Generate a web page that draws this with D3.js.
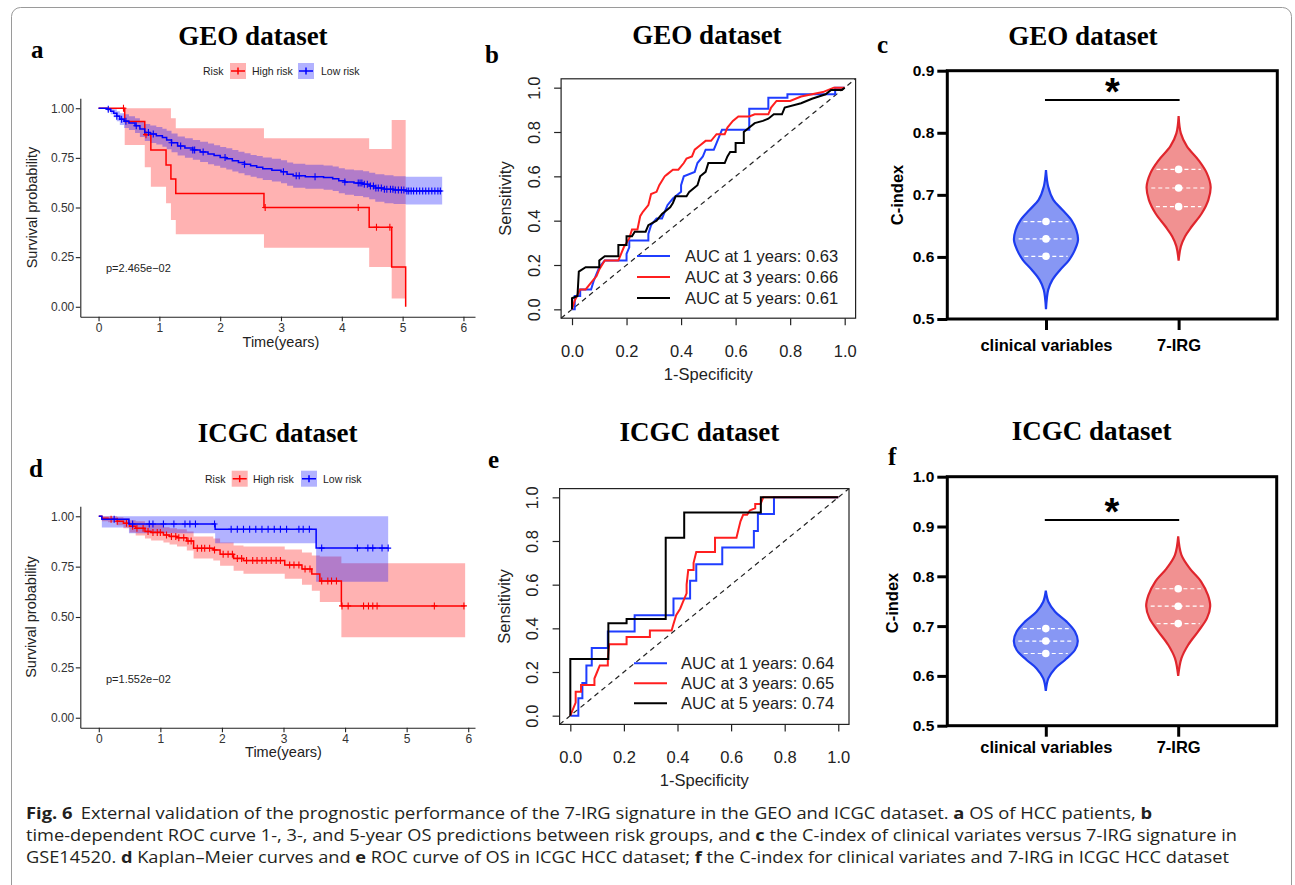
<!DOCTYPE html>
<html>
<head>
<meta charset="utf-8">
<script src="https://cdn.jsdelivr.net/npm/d3@7"></script>
<style>
  body { margin: 0; background: #fff; }
  svg { display: block; }
</style>
</head>
<body>
<div id="fig"></div>
<script>
// ---- data: Kaplan-Meier rows [time, surv, lower, upper] ----
var geoHigh = [
  [0, 1, 1, 1], [0.43, 0.933, 0.815, 1], [0.76, 0.867, 0.703, 1], [0.86, 0.79, 0.605, 1],
  [1.11, 0.714, 0.521, 1], [1.19, 0.643, 0.437, 0.95], [1.27, 0.571, 0.365, 0.899],
  [2.72, 0.5, 0.297, 0.849], [4.45, 0.4, 0.2, 0.795], [4.82, 0.2, 0.042, 0.941],
  [5.05, 0, 0.042, 0.941]
];
var geoLow = [
  [0, 1, 1, 1], [0.14, 0.995, 0.985, 1], [0.2, 0.985, 0.97, 1], [0.25, 0.975, 0.955, 0.995],
  [0.3, 0.96, 0.935, 0.985], [0.35, 0.945, 0.915, 0.975], [0.42, 0.935, 0.9, 0.97],
  [0.5, 0.925, 0.89, 0.96], [0.6, 0.912, 0.875, 0.95], [0.68, 0.895, 0.855, 0.935],
  [0.76, 0.878, 0.835, 0.92], [0.85, 0.87, 0.825, 0.913], [0.95, 0.862, 0.817, 0.906],
  [1.05, 0.852, 0.806, 0.897], [1.12, 0.84, 0.793, 0.886], [1.2, 0.826, 0.778, 0.873],
  [1.3, 0.81, 0.762, 0.858], [1.42, 0.8, 0.751, 0.849], [1.55, 0.79, 0.74, 0.84],
  [1.67, 0.78, 0.729, 0.831], [1.8, 0.77, 0.718, 0.822], [1.9, 0.762, 0.71, 0.814],
  [2.0, 0.752, 0.7, 0.805], [2.1, 0.745, 0.692, 0.798], [2.2, 0.735, 0.681, 0.789],
  [2.3, 0.727, 0.673, 0.781], [2.4, 0.718, 0.663, 0.773], [2.5, 0.71, 0.655, 0.765],
  [2.6, 0.703, 0.647, 0.759], [2.7, 0.695, 0.639, 0.752], [2.85, 0.688, 0.631, 0.745],
  [3.0, 0.68, 0.622, 0.738], [3.1, 0.668, 0.609, 0.727], [3.2, 0.66, 0.6, 0.72],
  [3.4, 0.655, 0.595, 0.715], [3.7, 0.651, 0.59, 0.712], [3.85, 0.645, 0.583, 0.707],
  [3.95, 0.635, 0.572, 0.698], [4.05, 0.628, 0.564, 0.692], [4.2, 0.623, 0.558, 0.688],
  [4.35, 0.617, 0.551, 0.683], [4.45, 0.608, 0.541, 0.675], [4.55, 0.598, 0.529, 0.667],
  [4.7, 0.592, 0.522, 0.662], [4.85, 0.588, 0.518, 0.658], [5.05, 0.583, 0.515, 0.655],
  [5.65, 0.583, 0.515, 0.655]
];
var geoHighCens = [0.41, 0.78, 2.74, 4.27, 4.57, 4.79];
var geoLowCens = [0.16, 0.3, 0.38, 0.45, 0.62, 0.82, 0.9, 1.2, 1.35, 1.55, 1.58, 1.72, 2.08,
  2.4, 3.04, 3.25, 3.3, 3.56, 4.05, 4.27, 4.3, 4.33, 4.37, 4.42, 4.47, 4.52, 4.56, 4.6, 4.65,
  4.7, 4.74, 4.8, 4.84, 4.88, 4.93, 4.98, 5.02, 5.07, 5.1, 5.14, 5.18, 5.23, 5.28, 5.33, 5.38,
  5.43, 5.48, 5.53, 5.58, 5.62];

var icgcHigh = [
  [0, 1, 1, 1], [0.05, 0.99, 0.975, 1], [0.15, 0.985, 0.97, 1], [0.3, 0.975, 0.955, 0.995],
  [0.4, 0.965, 0.94, 0.99], [0.5, 0.95, 0.92, 0.98], [0.6, 0.94, 0.905, 0.975],
  [0.75, 0.925, 0.89, 0.965], [0.85, 0.92, 0.88, 0.96], [1.05, 0.907, 0.87, 0.945],
  [1.15, 0.9, 0.86, 0.94], [1.27, 0.894, 0.85, 0.935], [1.43, 0.877, 0.83, 0.925],
  [1.54, 0.841, 0.79, 0.9], [1.86, 0.833, 0.78, 0.89], [1.97, 0.811, 0.755, 0.87],
  [2.19, 0.791, 0.73, 0.855], [2.35, 0.78, 0.715, 0.85], [3.02, 0.758, 0.69, 0.835],
  [3.3, 0.738, 0.66, 0.82], [3.46, 0.714, 0.63, 0.805], [3.59, 0.679, 0.575, 0.8],
  [3.94, 0.555, 0.4, 0.767], [5.95, 0.555, 0.4, 0.767]
];
var icgcLow = [
  [0, 1, 1, 1], [0.05, 0.985, 0.944, 1], [0.49, 0.962, 0.916, 1], [1.89, 0.935, 0.866, 1],
  [3.53, 0.842, 0.675, 1], [4.7, 0.842, 0.675, 1]
];
var icgcHighCens = [0.2, 0.3, 0.45, 0.55, 0.62, 0.72, 0.8, 0.88, 0.95, 1.0, 1.1, 1.18, 1.25,
  1.3, 1.38, 1.45, 1.5, 1.6, 1.67, 1.72, 1.8, 1.88, 2.02, 2.1, 2.17, 2.25, 2.32, 2.4, 2.5,
  2.57, 2.65, 2.72, 2.8, 2.88, 2.95, 3.1, 3.17, 3.25, 3.35, 3.43, 3.62, 3.72, 3.78, 3.86,
  3.95, 4.05, 4.3, 4.38, 4.45, 4.52, 5.45, 5.93];
var icgcLowCens = [0.25, 0.55, 0.82, 0.88, 1.05, 1.22, 1.4, 1.48, 1.57, 1.88, 2.15, 2.25, 2.35,
  2.45, 2.55, 2.65, 2.75, 2.85, 2.95, 3.05, 3.25, 3.32, 3.42, 3.62, 4.2, 4.37, 4.45, 4.6, 4.7];
var timeTicks = [0, 1, 2, 3, 4, 5, 6];
var survTicks = [0, 0.25, 0.5, 0.75, 1];

// ---- data: ROC points [1-specificity, sensitivity] ----
var geoRoc1 = [[0,0],[0.01,0],[0.01,0.06],[0.03,0.06],[0.03,0.09],[0.07,0.09],[0.08,0.13],[0.09,0.16],
  [0.1,0.19],[0.12,0.22],[0.2,0.22],[0.2,0.25],[0.21,0.28],[0.21,0.31],[0.28,0.31],[0.28,0.34],
  [0.29,0.38],[0.31,0.41],[0.33,0.41],[0.34,0.44],[0.35,0.47],[0.37,0.5],[0.4,0.53],[0.4,0.56],
  [0.41,0.6],[0.45,0.62],[0.46,0.66],[0.48,0.69],[0.49,0.72],[0.52,0.72],[0.53,0.75],[0.54,0.78],
  [0.55,0.81],[0.65,0.81],[0.65,0.905],[0.72,0.905],[0.72,0.955],[0.79,0.955],[0.79,0.97],
  [0.965,0.97],[0.965,1],[1,1]];
var geoRoc3 = [[0,0],[0.01,0.04],[0.03,0.09],[0.05,0.09],[0.07,0.12],[0.09,0.15],[0.1,0.18],[0.12,0.22],
  [0.17,0.22],[0.18,0.25],[0.19,0.28],[0.21,0.32],[0.22,0.36],[0.24,0.36],[0.25,0.42],[0.26,0.44],
  [0.28,0.47],[0.29,0.52],[0.31,0.53],[0.32,0.56],[0.34,0.6],[0.35,0.61],[0.37,0.63],[0.39,0.63],
  [0.41,0.66],[0.42,0.68],[0.44,0.69],[0.45,0.72],[0.47,0.74],[0.49,0.76],[0.51,0.76],[0.53,0.79],
  [0.56,0.79],[0.57,0.82],[0.59,0.85],[0.61,0.87],[0.65,0.87],[0.67,0.88],[0.72,0.88],[0.73,0.91],
  [0.75,0.94],[0.8,0.94],[0.84,0.96],[0.92,0.98],[0.96,1],[1,1]];
var geoRoc5 = [[0,0],[0,0.05],[0.02,0.06],[0.025,0.17],[0.05,0.19],[0.1,0.19],[0.1,0.22],[0.12,0.24],
  [0.17,0.24],[0.17,0.29],[0.2,0.29],[0.2,0.33],[0.22,0.33],[0.23,0.35],[0.27,0.35],[0.28,0.38],
  [0.31,0.4],[0.33,0.43],[0.36,0.46],[0.37,0.48],[0.38,0.51],[0.42,0.51],[0.43,0.53],[0.46,0.56],
  [0.47,0.6],[0.49,0.62],[0.5,0.66],[0.56,0.66],[0.57,0.69],[0.58,0.71],[0.6,0.71],[0.6,0.75],
  [0.63,0.75],[0.63,0.8],[0.65,0.82],[0.67,0.84],[0.7,0.85],[0.72,0.86],[0.74,0.88],[0.77,0.88],
  [0.78,0.91],[0.84,0.93],[0.88,0.95],[0.93,0.97],[0.95,0.99],[0.99,0.99],[1,1]];
var icgcRoc1 = [[0,0],[0.03,0],[0.03,0.08],[0.045,0.08],[0.045,0.15],[0.06,0.15],[0.06,0.23],
  [0.08,0.23],[0.08,0.31],[0.14,0.31],[0.14,0.385],[0.24,0.385],[0.24,0.46],[0.385,0.46],
  [0.385,0.537],[0.447,0.537],[0.447,0.618],[0.47,0.618],[0.47,0.693],[0.567,0.693],[0.567,0.77],
  [0.685,0.77],[0.685,0.846],[0.7,0.846],[0.7,0.924],[0.76,0.924],[0.76,1],[1,1]];
var icgcRoc3 = [[0,0],[0.01,0.03],[0.02,0.06],[0.02,0.11],[0.04,0.11],[0.04,0.14],[0.09,0.14],
  [0.09,0.17],[0.1,0.2],[0.11,0.23],[0.14,0.23],[0.14,0.26],[0.145,0.327],[0.21,0.327],[0.21,0.36],
  [0.297,0.36],[0.297,0.39],[0.378,0.39],[0.385,0.42],[0.395,0.46],[0.41,0.49],[0.42,0.52],
  [0.434,0.56],[0.434,0.6],[0.44,0.667],[0.46,0.667],[0.46,0.7],[0.47,0.75],[0.54,0.75],
  [0.54,0.815],[0.62,0.815],[0.627,0.85],[0.635,0.89],[0.645,0.92],[0.66,0.92],[0.67,0.94],
  [0.69,0.95],[0.69,0.97],[0.71,0.97],[0.72,1],[1,1]];
var icgcRoc5 = [[0,0],[0,0.26],[0.142,0.26],[0.142,0.423],[0.21,0.423],[0.21,0.443],[0.356,0.443],
  [0.356,0.815],[0.425,0.815],[0.425,0.93],[0.711,0.93],[0.711,1],[1,1]];
var rocTicks = [0, 0.2, 0.4, 0.6, 0.8, 1];
var geoAuc = ["AUC at 1 years: 0.63", "AUC at 3 years: 0.66", "AUC at 5 years: 0.61"];
var icgcAuc = ["AUC at 1 years: 0.64", "AUC at 3 years: 0.65", "AUC at 5 years: 0.74"];

// ---- data: violin outlines [C-index, relative width] and quartiles ----
var categories = ["clinical variables", "7-IRG"];
var geoClinShape = [[0.516,0],[0.547,0.07],[0.563,0.2],[0.579,0.44],[0.595,0.72],[0.611,0.9],
  [0.627,1],[0.643,0.95],[0.659,0.8],[0.676,0.51],[0.692,0.23],[0.713,0.07],[0.74,0]];
var geoIrgShape = [[0.594,0],[0.617,0.07],[0.633,0.2],[0.649,0.41],[0.67,0.72],[0.692,0.93],
  [0.713,1],[0.735,0.88],[0.756,0.62],[0.778,0.26],[0.799,0.07],[0.827,0]];
var icgcClinShape = [[0.57,0],[0.595,0.08],[0.615,0.29],[0.632,0.6],[0.652,0.91],[0.67,1],
  [0.689,0.91],[0.709,0.65],[0.729,0.29],[0.749,0.08],[0.771,0]];
var icgcIrgShape = [[0.6,0],[0.635,0.1],[0.662,0.31],[0.689,0.62],[0.716,0.9],[0.74,1],
  [0.762,0.93],[0.789,0.72],[0.816,0.36],[0.843,0.1],[0.88,0]];
var geoClinQ = [0.601, 0.629, 0.657];
var geoIrgQ = [0.681, 0.711, 0.741];
var icgcClinQ = [0.645, 0.67, 0.695];
var icgcIrgQ = [0.705, 0.74, 0.775];

var captionLines = [
  [["Fig. 6", 1], ["External validation of the prognostic performance of the 7-IRG signature in the GEO and ICGC dataset. ", 0, 7], ["a", 1], [" OS of HCC patients, ", 0], ["b", 1]],
  [["time-dependent ROC curve 1-, 3-, and 5-year OS predictions between risk groups, and ", 0], ["c", 1], [" the C-index of clinical variates versus 7-IRG signature in", 0]],
  [["GSE14520. ", 0], ["d", 1], [" Kaplan\u2013Meier curves and ", 0], ["e", 1], [" ROC curve of OS in ICGC HCC dataset; ", 0], ["f", 1], [" the C-index for clinical variates and 7-IRG in ICGC HCC dataset", 0]]
];

var SANS = "'Liberation Sans', Arial, sans-serif";
var SERIF = "'Liberation Serif', 'Times New Roman', serif";

var svg = d3.select("#fig").append("svg")
    .attr("width", 1295)
    .attr("height", 885);

// figure frame
svg.append("rect")
    .attr("x", 11.5).attr("y", 7.5)
    .attr("width", 1280).attr("height", 900)
    .attr("rx", 9)
    .attr("fill", "none")
    .attr("stroke", "#9a9a9a");

function heading(title, tx, ty, letter, lx, ly) {
    svg.append("text")
        .attr("x", tx).attr("y", ty)
        .attr("text-anchor", "middle")
        .style("font-family", SERIF).style("font-weight", "bold").style("font-size", "27px")
        .text(title);
    svg.append("text")
        .attr("x", lx).attr("y", ly)
        .style("font-family", SERIF).style("font-weight", "bold").style("font-size", "25px")
        .text(letter);
}

function drawKM(o) {
    var g = svg.append("g");
    var x = d3.scaleLinear().domain(o.xDomain).range(o.xRange);
    var y = d3.scaleLinear().domain([-0.05, 1.05]).range(o.yRange);
    var groups = [
        {rows: o.high, cens: o.highCens, color: "#ff0000", band: "rgba(255,0,0,0.3)"},
        {rows: o.low, cens: o.lowCens, color: "#0000ff", band: "rgba(0,0,255,0.3)"}
    ];
    var band = d3.area().curve(d3.curveStepAfter)
        .x(function(d) { return x(d[0]); })
        .y0(function(d) { return y(d[2]); })
        .y1(function(d) { return y(d[3]); });
    var line = d3.line().curve(d3.curveStepAfter)
        .x(function(d) { return x(d[0]); })
        .y(function(d) { return y(d[1]); });
    var bisect = d3.bisector(function(d) { return d[0]; }).right;

    groups.forEach(function(gr) {
        g.append("path").attr("d", band(gr.rows)).attr("fill", gr.band);
    });
    groups.forEach(function(gr) {
        g.append("path").attr("d", line(gr.rows))
            .attr("fill", "none").attr("stroke", gr.color).attr("stroke-width", 1.5);
        g.append("g").selectAll("path").data(gr.cens).join("path")
            .attr("d", function(t) {
                var i = Math.max(0, bisect(gr.rows, t) - 1);
                var px = x(t), py = y(gr.rows[i][1]);
                return "M" + (px - 3) + "," + py + "h6M" + px + "," + (py - 3.5) + "v7";
            })
            .attr("stroke", gr.color).attr("stroke-width", 1.1);
    });

    var ya = g.append("g")
        .attr("transform", "translate(" + o.xRange[0] + ",0)")
        .call(d3.axisLeft(y).tickValues(survTicks)
            .tickFormat(d3.format(".2f")).tickSize(4.5).tickPadding(1.5).tickSizeOuter(0));
    var xa = g.append("g")
        .attr("transform", "translate(0," + o.yRange[0] + ")")
        .call(d3.axisBottom(x).tickValues(timeTicks).tickFormat(d3.format("d"))
            .tickSize(4.5).tickPadding(2).tickSizeOuter(0));
    [ya, xa].forEach(function(a) {
        a.attr("color", "#222");
        a.selectAll("path,line").attr("stroke-width", 1.1);
        a.selectAll("text").style("font-family", SANS).style("font-size", "12px").attr("fill", "#333");
    });

    g.append("text")
        .attr("x", (x(0) + x(6)) / 2).attr("y", o.xTitleY)
        .attr("text-anchor", "middle")
        .style("font-family", SANS).style("font-size", "14.5px").attr("fill", "#222")
        .text("Time(years)");
    g.append("text")
        .attr("transform", "translate(" + o.yTitleX + "," + y(0.5) + ") rotate(-90)")
        .attr("text-anchor", "middle")
        .style("font-family", SANS).style("font-size", "14.5px").attr("fill", "#222")
        .text("Survival probability");
    g.append("text")
        .attr("x", o.pX).attr("y", o.pY)
        .style("font-family", SANS).style("font-size", "11px").attr("fill", "#222")
        .text(o.p);

    // legend
    var lg = g.append("g").style("font-family", SANS).style("font-size", "10.5px");
    lg.append("text").attr("x", o.leg[0]).attr("y", o.legY).attr("fill", "#222").text("Risk");
    [[o.leg[1], o.leg[2], "High risk", groups[0]], [o.leg[3], o.leg[4], "Low risk", groups[1]]]
        .forEach(function(k) {
            lg.append("rect").attr("x", k[0]).attr("y", o.legY - 12)
                .attr("width", 16).attr("height", 16).attr("fill", k[3].band);
            var cy = o.legY - 4, cx = k[0] + 8;
            lg.append("path")
                .attr("d", "M" + (k[0] + 1) + "," + cy + "h14M" + cx + "," + (cy - 3.5) + "v7")
                .attr("stroke", k[3].color).attr("stroke-width", 1.5);
            lg.append("text").attr("x", k[1]).attr("y", o.legY).attr("fill", "#222").text(k[2]);
        });
}

function drawROC(o) {
    var g = svg.append("g");
    var x = d3.scaleLinear().domain([-0.04, 1.04]).range([o.box[0], o.box[2]]);
    var y = d3.scaleLinear().domain([-0.04, 1.04]).range([o.box[3], o.box[1]]);
    var line = d3.line()
        .x(function(d) { return x(d[0]); })
        .y(function(d) { return y(d[1]); });
    var colors = ["#1f3dff", "#ff1f1f", "#000000"];

    g.append("path")
        .attr("d", line([[-0.04, -0.04], [1.04, 1.04]]))
        .attr("stroke", "#222").attr("stroke-width", 1.2).attr("stroke-dasharray", "5,4");
    o.curves.forEach(function(c, i) {
        g.append("path").attr("d", line(c))
            .attr("fill", "none").attr("stroke", colors[i]).attr("stroke-width", 2);
    });
    g.append("rect")
        .attr("x", o.box[0]).attr("y", o.box[1])
        .attr("width", o.box[2] - o.box[0]).attr("height", o.box[3] - o.box[1])
        .attr("fill", "none").attr("stroke", "#222").attr("stroke-width", 1.2);

    var xa = g.append("g")
        .attr("transform", "translate(0," + o.box[3] + ")")
        .call(d3.axisBottom(x).tickValues(rocTicks).tickFormat(d3.format(".1f")).tickSize(7));
    xa.selectAll("text").attr("dy", null).attr("y", 38.5);
    var ya = g.append("g")
        .attr("transform", "translate(" + o.box[0] + ",0)")
        .call(d3.axisLeft(y).tickValues(rocTicks).tickFormat(d3.format(".1f")).tickSize(7));
    ya.selectAll("text")
        .attr("dy", null).attr("x", 0).attr("y", -21.5)
        .attr("transform", "rotate(-90)")
        .attr("text-anchor", "middle");
    [xa, ya].forEach(function(a) {
        a.select(".domain").remove();
        a.attr("color", "#222");
        a.selectAll("line").attr("stroke-width", 1.2);
        a.selectAll("text").style("font-family", SANS).style("font-size", "16.5px");
    });

    g.append("text")
        .attr("x", (x(0) + x(1)) / 2).attr("y", o.box[3] + 62)
        .attr("text-anchor", "middle")
        .style("font-family", SANS).style("font-size", "16.5px").attr("fill", "#222")
        .text("1-Specificity");
    g.append("text")
        .attr("transform", "translate(" + (o.box[0] - 50) + "," + (y(0) + y(1)) / 2 + ") rotate(-90)")
        .attr("text-anchor", "middle")
        .style("font-family", SANS).style("font-size", "16.5px").attr("fill", "#222")
        .text("Sensitivity");

    o.labels.forEach(function(t, i) {
        var ly = o.legY + i * o.legDY;
        g.append("line")
            .attr("x1", o.legX[0]).attr("x2", o.legX[1])
            .attr("y1", ly).attr("y2", ly)
            .attr("stroke", colors[i]).attr("stroke-width", 2);
        g.append("text")
            .attr("x", o.legX[2]).attr("y", ly + 6)
            .style("font-family", SANS).style("font-size", "16.5px").attr("fill", "#222")
            .text(t);
    });
}

function drawViolin(o) {
    var g = svg.append("g");
    var y = d3.scaleLinear().domain(o.yDomain).range([o.box[3], o.box[1]]);
    var x = d3.scalePoint().domain(categories).range([o.box[0], o.box[2]]).padding(0.744);
    var HW = 32;
    var styles = [
        {fill: "#8797f4", stroke: "#1d3cf0"},
        {fill: "#f19191", stroke: "#e0262d"}
    ];
    o.violins.forEach(function(v, i) {
        var cx = x(categories[i]);
        var area = d3.area().curve(d3.curveCatmullRom)
            .y(function(d) { return y(d[0]); })
            .x0(function(d) { return cx - d[1] * HW; })
            .x1(function(d) { return cx + d[1] * HW; });
        g.append("path").attr("d", area(v.shape))
            .attr("fill", styles[i].fill)
            .attr("stroke", styles[i].stroke).attr("stroke-width", 2.2);
        var w = d3.scaleLinear()
            .domain(v.shape.map(function(d) { return d[0]; }))
            .range(v.shape.map(function(d) { return d[1]; }));
        v.q.forEach(function(q) {
            var hw = w(q) * HW * 0.86;
            g.append("line")
                .attr("x1", cx - hw).attr("x2", cx + hw)
                .attr("y1", y(q)).attr("y2", y(q))
                .attr("stroke", "#fff").attr("stroke-width", 1.2)
                .attr("stroke-dasharray", "4,3");
            g.append("circle").attr("cx", cx).attr("cy", y(q)).attr("r", 3.8).attr("fill", "#fff");
        });
    });

    g.append("rect")
        .attr("x", o.box[0]).attr("y", o.box[1])
        .attr("width", o.box[2] - o.box[0]).attr("height", o.box[3] - o.box[1])
        .attr("fill", "none").attr("stroke", "#000").attr("stroke-width", 3);

    var ya = g.append("g")
        .attr("transform", "translate(" + o.box[0] + ",0)")
        .call(d3.axisLeft(y).tickValues(o.ticks).tickFormat(d3.format(".1f")).tickSize(10).tickPadding(3));
    var xa = g.append("g")
        .attr("transform", "translate(0," + o.box[3] + ")")
        .call(d3.axisBottom(x).tickSize(11));
    xa.selectAll("text").attr("dy", null).attr("y", o.catDY).style("font-size", "16.5px");
    ya.selectAll("text").style("font-size", "15.5px");
    [xa, ya].forEach(function(a) {
        a.select(".domain").remove();
        a.attr("color", "#000");
        a.selectAll("line").attr("stroke-width", 3);
        a.selectAll("text").style("font-family", SANS).style("font-weight", "bold");
    });

    g.append("text")
        .attr("transform", "translate(" + o.yTitleX + "," + o.yTitleY + ") rotate(-90)")
        .attr("text-anchor", "middle")
        .style("font-family", SANS).style("font-weight", "bold").style("font-size", "16.5px")
        .text("C-index");

    g.append("line")
        .attr("x1", x(categories[0]) - 1).attr("x2", x(categories[1]) + 1)
        .attr("y1", o.sigY).attr("y2", o.sigY)
        .attr("stroke", "#000").attr("stroke-width", 2);
    g.append("text")
        .attr("x", (x(categories[0]) + x(categories[1])) / 2).attr("y", o.sigY + 5)
        .attr("text-anchor", "middle")
        .style("font-family", SANS).style("font-weight", "bold").style("font-size", "38px")
        .text("*");
}

// ---- panels ----
heading("GEO dataset", 253, 45, "a", 31, 58);
drawKM({
    high: geoHigh, low: geoLow, highCens: geoHighCens, lowCens: geoLowCens,
    xDomain: [-0.3, 6.19], xRange: [80.3, 475], yRange: [316.7, 98.3],
    xTitleY: 347, yTitleX: 37, p: "p=2.465e\u221202", pX: 106, pY: 271.7,
    legY: 75, leg: [203, 230, 252, 298, 321]
});

heading("GEO dataset", 707, 44, "b", 485, 62.7);
drawROC({
    box: [561.1, 78.8, 855.6, 318.2],
    curves: [geoRoc1, geoRoc3, geoRoc5], labels: geoAuc,
    legX: [637, 670, 685], legY: 256, legDY: 21
});

heading("GEO dataset", 1083, 45, "c", 877, 52.7);
drawViolin({
    box: [947.3, 70.7, 1277.3, 319], yDomain: [0.5, 0.9], ticks: [0.5, 0.6, 0.7, 0.8, 0.9],
    violins: [{shape: geoClinShape, q: geoClinQ}, {shape: geoIrgShape, q: geoIrgQ}],
    catDY: 32, yTitleX: 903, yTitleY: 195, sigY: 100
});

heading("ICGC dataset", 277.7, 442, "d", 29, 476.7);
drawKM({
    high: icgcHigh, low: icgcLow, highCens: icgcHighCens, lowCens: icgcLowCens,
    xDomain: [-0.3, 6.11], xRange: [80.3, 475], yRange: [727.8, 506.2],
    xTitleY: 757, yTitleX: 36, p: "p=1.552e\u221202", pX: 106, pY: 683,
    legY: 482.7, leg: [205, 231.7, 253, 301, 323]
});

heading("ICGC dataset", 699.3, 441, "e", 488, 468);
drawROC({
    box: [559.6, 488.6, 849, 724.4],
    curves: [icgcRoc1, icgcRoc3, icgcRoc5], labels: icgcAuc,
    legX: [634, 667, 681], legY: 663.3, legDY: 20
});

heading("ICGC dataset", 1091.7, 440, "f", 888, 465);
drawViolin({
    box: [947.3, 476.7, 1276.7, 725.7], yDomain: [0.5, 1.0], ticks: [0.5, 0.6, 0.7, 0.8, 0.9, 1.0],
    violins: [{shape: icgcClinShape, q: icgcClinQ}, {shape: icgcIrgShape, q: icgcIrgQ}],
    catDY: 27, yTitleX: 898, yTitleY: 603, sigY: 520
});

// ---- caption ----
var capWidths = [1126, 1211, 1203];
var capY = [819, 841, 863];
captionLines.forEach(function(parts, i) {
    var t = svg.append("text")
        .attr("x", 26).attr("y", capY[i])
        .attr("textLength", capWidths[i]).attr("lengthAdjust", "spacingAndGlyphs")
        .style("font-family", "'Open Sans', 'Noto Sans', sans-serif")
        .style("font-size", "15.5px").attr("fill", "#231f20");
    parts.forEach(function(p) {
        t.append("tspan")
            .attr("dx", p[2] || null)
            .style("font-weight", p[1] ? "bold" : "normal")
            .text(p[0]);
    });
});
</script>
</body>
</html>
